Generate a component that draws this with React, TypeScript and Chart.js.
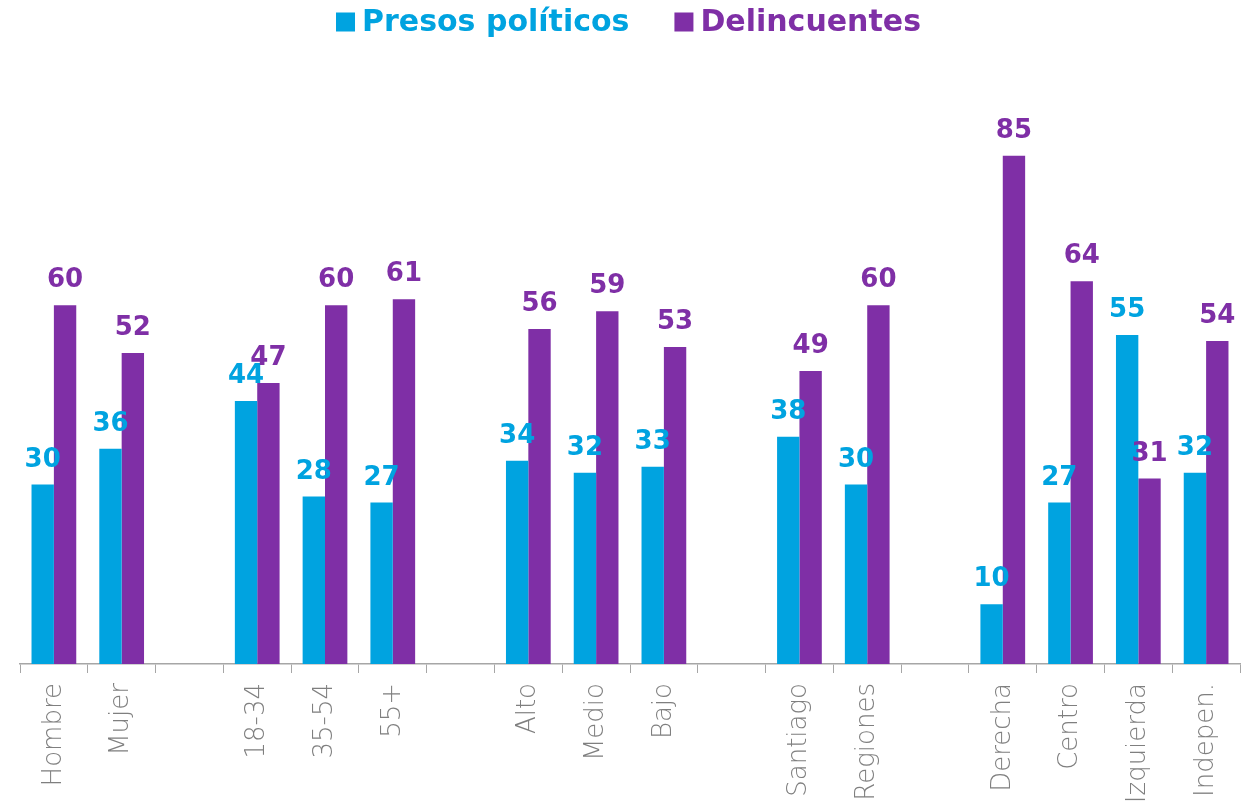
import React, { useEffect, useRef } from "react";
import { Chart, registerables } from "chart.js";

Chart.register(...registerables);

const categories = ["Hombre", "Mujer", "", "18-34", "35-54", "55+", "", "Alto", "Medio", "Bajo", "", "Santiago", "Regiones", "", "Derecha", "Centro", "Izquierda", "Indepen."];
const presosPoliticos = [30, 36, null, 44, 28, 27, null, 34, 32, 33, null, 38, 30, null, 10, 27, 55, 32];
const delincuentes = [60, 52, null, 47, 60, 61, null, 56, 59, 53, null, 49, 60, null, 85, 64, 31, 54];

const BLUE = "#00A3E0";
const PURPLE = "#7F2FA6";
const FONT = "'DejaVu Sans', 'Noto Sans', sans-serif";

const valueLabels = {
  id: "valueLabels",
  afterDatasetsDraw(chart: any) {
    const ctx = chart.ctx;
    chart.data.datasets.forEach((ds: any, i: number) => {
      const meta = chart.getDatasetMeta(i);
      meta.data.forEach((bar: any, j: number) => {
        const v = ds.data[j];
        if (v === null || v === undefined) return;
        ctx.save();
        ctx.font = `bold 26px ${FONT}`;
        ctx.fillStyle = ds.backgroundColor;
        ctx.textAlign = "center";
        ctx.textBaseline = "alphabetic";
        ctx.fillText(String(v), bar.x, bar.y - 18);
        ctx.restore();
      });
    });
  },
};

const topLegend = {
  id: "topLegend",
  afterDraw(chart: any) {
    const ctx = chart.ctx;
    const box = 19;
    const gapText = 7;
    const gapItem = 45;
    ctx.save();
    ctx.font = `bold 30px ${FONT}`;
    const items = chart.data.datasets.map((ds: any) => ({
      text: ds.label,
      color: ds.backgroundColor,
      w: ctx.measureText(ds.label).width,
    }));
    const total = items.reduce((s: number, it: any) => s + box + gapText + it.w, 0) + gapItem * (items.length - 1);
    let x = chart.width / 2 - total / 2 + 2;
    const cy = 22;
    items.forEach((it: any) => {
      ctx.fillStyle = it.color;
      ctx.fillRect(x, cy - box / 2, box, box);
      x += box + gapText;
      ctx.textAlign = "left";
      ctx.textBaseline = "middle";
      ctx.fillText(it.text, x, cy + 1);
      x += it.w + gapItem;
    });
    ctx.restore();
  },
};

export default function App() {
  const ref = useRef<HTMLCanvasElement>(null);
  useEffect(() => {
    document.body.style.margin = "0";
    const chart = new Chart(ref.current!, {
      type: "bar",
      data: {
        labels: categories,
        datasets: [
          { label: "Presos políticos", data: presosPoliticos, backgroundColor: BLUE, categoryPercentage: 0.66, barPercentage: 1 },
          { label: "Delincuentes", data: delincuentes, backgroundColor: PURPLE, categoryPercentage: 0.66, barPercentage: 1 },
        ],
      },
      options: {
        animation: false,
        responsive: false,
        maintainAspectRatio: false,
        layout: { padding: { left: 20, right: 13, top: 66, bottom: 0 } },
        plugins: {
          legend: { display: false },
          tooltip: { enabled: false },
        },
        scales: {
          x: {
            offset: true,
            afterFit(scale: any) {
              scale.height = 142;
            },
            grid: { display: true, drawOnChartArea: false, drawTicks: true, tickLength: 9, color: "#A6A6A6", offset: true },
            border: { display: true, color: "#A6A6A6", width: 1.5 },
            ticks: {
              minRotation: 90,
              maxRotation: 90,
              autoSkip: false,
              color: "#7F7F7F",
              padding: 10,
              font: { size: 26, family: FONT, weight: "200" },
            },
          },
          y: {
            display: false,
            min: 0,
            max: 100,
          },
        },
      },
      plugins: [valueLabels, topLegend],
    });
    return () => chart.destroy();
  }, []);
  return (
    <div style={{ position: "absolute", left: 0, top: 0, width: 1253, height: 806 }}>
      <canvas ref={ref} width={1253} height={806} style={{ width: 1253, height: 806 }} />
    </div>
  );
}
